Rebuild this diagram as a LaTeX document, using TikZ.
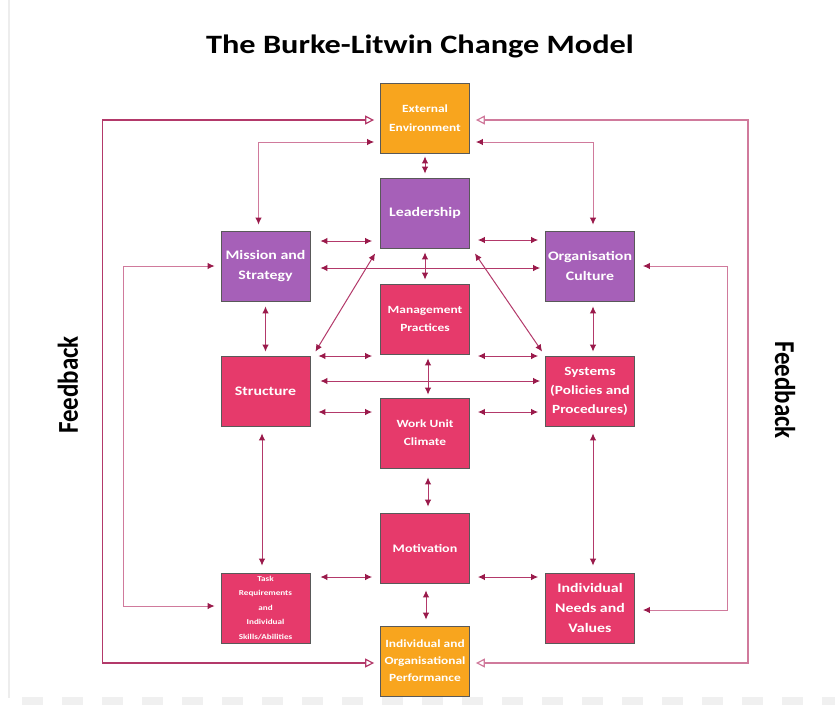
\documentclass[tikz,border=0pt]{standalone}
\usepackage{fontspec}
\setmainfont[FakeStretch=1.22]{Carlito}
\newfontfamily\plainfont{Carlito}
\usetikzlibrary{arrows.meta,calc}
\definecolor{boxorange}{HTML}{F8A51E}
\definecolor{boxpurple}{HTML}{A660B8}
\definecolor{boxpink}{HTML}{E63A6B}
\definecolor{linecol}{HTML}{B3396A}
\definecolor{lightline}{HTML}{D07A9C}
\definecolor{tipcol}{HTML}{9A1A4B}
\begin{document}
\begin{tikzpicture}[x=1pt,y=-1pt,
  box/.style={draw=black!65,line width=0.8pt,minimum width=89pt,minimum height=70pt,inner sep=1pt,
    text=white,font=\bfseries\fontsize{13}{20}\selectfont,align=center},
  obox/.style={box,fill=boxorange},
  pbox/.style={box,fill=boxpurple},
  kbox/.style={box,fill=boxpink},
  arr/.style={draw=linecol,line width=1pt,{Latex[length=7pt,width=6.5pt,color=tipcol]}-{Latex[length=7pt,width=6.5pt,color=tipcol]}},
  larr/.style={arr,draw=lightline},
  fb/.style={draw=linecol,line width=1.2pt,{Triangle[open,length=9pt,width=9pt,line width=1.2pt]}-{Triangle[open,length=9pt,width=9pt,line width=1.2pt]}},
  fblabel/.style={font=\plainfont\bfseries\fontsize{25}{25}\selectfont,text=black}
]
\path[use as bounding box,fill=white] (0,0) rectangle (835,707);
% faint page frame
\draw[black!7,line width=1.5pt] (9,0) -- (9,698);
\draw[black!6,line width=8pt,dash pattern=on 21pt off 19pt] (22,701) -- (835,701);

\node[font=\bfseries\fontsize{26.5}{26.5}\selectfont] (title) at (420,46) {The Burke-Litwin Change Model};

\node[obox,font=\bfseries\fontsize{11}{19}\selectfont] (ext) at (425,118) {External\\Environment};
\node[pbox] (lead) at (425,213) {Leadership};
\node[pbox] (mis) at (265.5,266) {Mission and\\Strategy};
\node[pbox] (org) at (590,266) {Organisation\\Culture};
\node[kbox,font=\bfseries\fontsize{11}{18}\selectfont] (mgmt) at (425,319) {Management\\Practices};
\node[kbox] (str) at (265.5,391) {Structure};
\node[kbox,font=\bfseries\fontsize{12.5}{19}\selectfont] (sys) at (590,391) {Systems\\(Policies and\\Procedures)};
\node[kbox,font=\bfseries\fontsize{11}{18}\selectfont] (wuc) at (425,433) {Work Unit\\Climate};
\node[kbox,font=\bfseries\fontsize{11.5}{18}\selectfont] (mot) at (425,548) {Motivation};
\node[kbox,font=\bfseries\fontsize{7.5}{14.5}\selectfont] (task) at (265.5,608) {Task\\Requirements\\and\\Individual\\Skills/Abilities};
\node[kbox] (ind) at (590,608) {Individual\\Needs and\\Values};
\node[obox,font=\bfseries\fontsize{11}{17}\selectfont] (perf) at (425,661) {Individual and\\Organisational\\Performance};

% feedback labels
\node[fblabel,rotate=90] (fbl) at (68,385) {\scalebox{1}[1.15]{Feedback}};
\node[fblabel,rotate=-90] (fbr) at (785,390) {\scalebox{1}[1.15]{Feedback}};

% outer feedback loops
\draw[fb] ([xshift=-6pt,yshift=-2pt]ext.west) -- ++(-272,0) |- ([xshift=-6pt,yshift=-2pt]perf.west);
\draw[fb,draw=lightline] ([xshift=6pt,yshift=-2pt]ext.east) -- ++(272,0) |- ([xshift=6pt,yshift=-2pt]perf.east);
% inner feedback loops
\draw[larr] ([xshift=-6pt]mis.west) -- ++(-91,0) |- ([xshift=-6pt,yshift=2pt]task.west);
\draw[larr] ([xshift=8pt]org.east) -- ++(85,0) |- ([xshift=8pt,yshift=-2pt]ind.east);

% external environment
\draw[arr] ([yshift=-3pt]ext.south) -- ([yshift=4pt]lead.north);
\draw[larr] ([xshift=-6pt,yshift=-24pt]ext.west) -| ([xshift=-7pt,yshift=6pt]mis.north);
\draw[larr] ([xshift=6pt,yshift=-24pt]ext.east) -| ([xshift=3pt,yshift=6pt]org.north);

% leadership level
\draw[arr] ([xshift=10pt,yshift=25pt]mis.east) -- ([xshift=-8pt,yshift=-28pt]lead.west);
\draw[arr] ([xshift=8pt,yshift=-27pt]lead.east) -- ([xshift=-7pt,yshift=26pt]org.west);
\draw[arr] ([xshift=10pt,yshift=-2pt]mis.east) -- ([xshift=-5pt,yshift=-2pt]org.west);
\draw[arr] ([yshift=-4pt]lead.south) -- ([yshift=4pt]mgmt.north);
\draw[arr] ([xshift=-5pt,yshift=-5pt]lead.south west) -- ([xshift=5pt,yshift=4pt]str.north east);
\draw[arr] ([xshift=5pt,yshift=-5pt]lead.south east) -- ([xshift=-3pt,yshift=4pt]sys.north west);
\draw[arr] ([yshift=-5pt]mis.south) -- ([yshift=4pt]str.north);
\draw[arr] ([xshift=3pt,yshift=-5pt]org.south) -- ([xshift=3pt,yshift=4pt]sys.north);

% management level
\draw[arr] ([xshift=8pt,yshift=35pt]str.east) -- ([xshift=-8pt,yshift=-37pt]mgmt.west);
\draw[arr] ([xshift=8pt,yshift=-37pt]mgmt.east) -- ([xshift=-7pt,yshift=35pt]sys.west);
\draw[arr] ([xshift=10pt,yshift=10pt]str.east) -- ([xshift=-5pt,yshift=10pt]sys.west);
\draw[arr] ([xshift=3pt,yshift=-4pt]mgmt.south) -- ([xshift=3pt,yshift=3pt]wuc.north);
\draw[arr] ([xshift=8pt,yshift=-21pt]str.east) -- ([xshift=-8pt,yshift=21pt]wuc.west);
\draw[arr] ([xshift=8pt,yshift=21pt]wuc.east) -- ([xshift=-7pt,yshift=-21pt]sys.west);
\draw[arr] ([xshift=3pt,yshift=-9pt]wuc.south) -- ([xshift=3pt,yshift=6pt]mot.north);
\draw[arr] ([xshift=-3.5pt,yshift=-7pt]str.south) -- ([xshift=-3.5pt,yshift=7pt]task.north);
\draw[arr] ([xshift=3pt,yshift=-7pt]sys.south) -- ([xshift=3pt,yshift=7pt]ind.north);

% motivation level
\draw[arr] ([xshift=10pt,yshift=31pt]task.east) -- ([xshift=-8pt,yshift=-29pt]mot.west);
\draw[arr] ([xshift=8pt,yshift=-29pt]mot.east) -- ([xshift=-7pt,yshift=31pt]ind.west);
\draw[arr] ([xshift=1pt,yshift=-7pt]mot.south) -- ([xshift=1pt,yshift=6pt]perf.north);
\end{tikzpicture}
\end{document}
